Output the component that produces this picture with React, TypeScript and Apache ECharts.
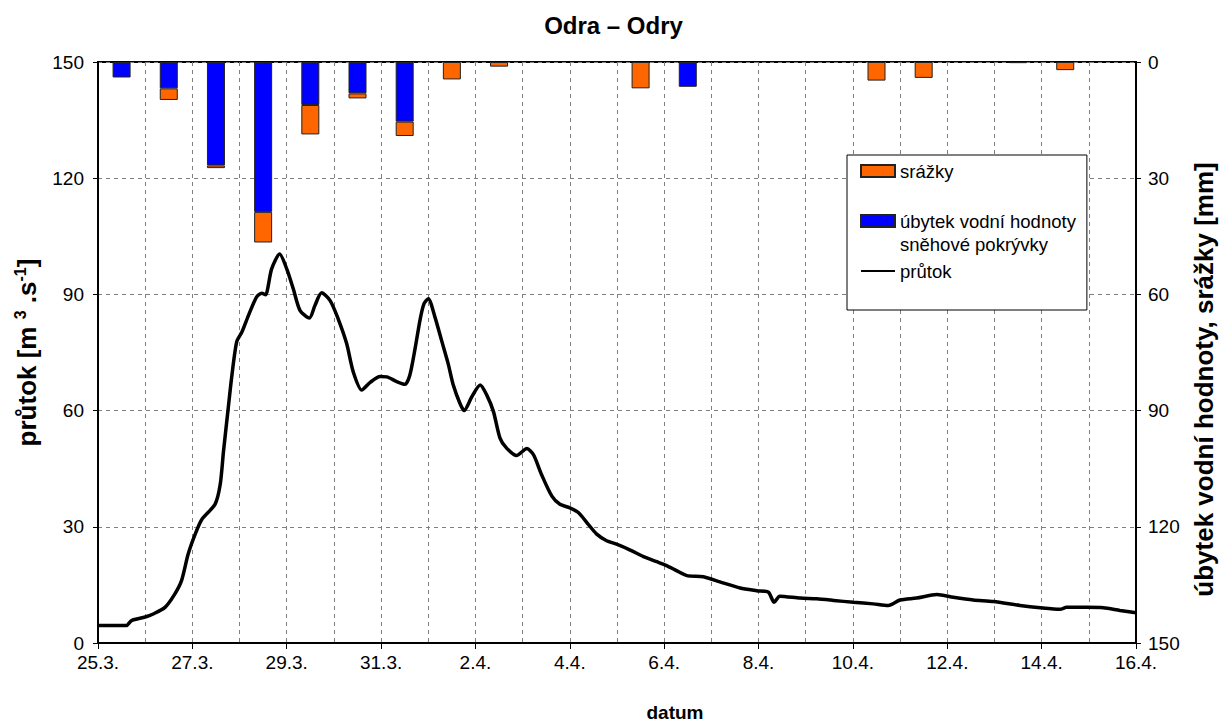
import React, { useEffect, useRef } from 'react';
import * as echarts from 'echarts';

const FONT = '"Liberation Sans", Arial, Helvetica, sans-serif';

// x axis tick labels (every 2 days, day offset 0..22)
const tickLabels = ['25.3.', '27.3.', '29.3.', '31.3.', '2.4.', '4.4.', '6.4.', '8.4.', '10.4.', '12.4.', '14.4.', '16.4.'];

// daily categories for the bars
const days = ['25.3.', '26.3.', '27.3.', '28.3.', '29.3.', '30.3.', '31.3.', '1.4.', '2.4.', '3.4.', '4.4.', '5.4.', '6.4.', '7.4.', '8.4.', '9.4.', '10.4.', '11.4.', '12.4.', '13.4.', '14.4.', '15.4.'];

// daily values, mm
const precip = [0, 3, 0.7, 7.9, 7.6, 1.3, 3.7, 4.5, 1.2, 0, 0, 6.8, 0, 0, 0, 0, 4.8, 4.1, 0, 0.3, 2.1, 0];
const snowLoss = [4, 6.8, 26.7, 38.7, 11.1, 8.1, 15.4, 0, 0, 0, 0, 0, 6.4, 0, 0, 0, 0, 0, 0, 0, 0, 0];

// discharge: time in days from 25.3. 0:00, value m3/s
const flowT = [0, 0.6, 0.71, 1.0, 1.17, 1.42, 1.63, 1.77, 1.91, 2.06, 2.2, 2.48, 2.59, 2.66, 2.76, 2.83, 2.94, 3.05, 3.19, 3.36, 3.47, 3.55, 3.68, 3.85, 4.0, 4.14, 4.28, 4.48, 4.6, 4.74, 4.92, 5.09, 5.27, 5.41, 5.59, 5.77, 5.98, 6.12, 6.33, 6.51, 6.61, 6.72, 6.83, 6.91, 7.0, 7.14, 7.28, 7.42, 7.53, 7.67, 7.76, 7.92, 8.1, 8.24, 8.38, 8.52, 8.66, 8.87, 9.09, 9.23, 9.4, 9.62, 9.79, 10.0, 10.18, 10.36, 10.57, 10.78, 10.99, 11.28, 11.56, 11.84, 12.05, 12.26, 12.48, 12.83, 13.18, 13.61, 13.96, 14.21, 14.33, 14.45, 14.88, 15.23, 15.59, 16.01, 16.43, 16.75, 17.0, 17.35, 17.78, 18.13, 18.55, 18.98, 19.54, 19.97, 20.39, 20.53, 20.96, 21.31, 21.66, 22.0];
const flowQ = [4.5, 4.5, 5.8, 6.7, 7.5, 9.2, 12.7, 16.1, 22.9, 28.1, 31.9, 35.8, 40.9, 49.5, 60.6, 68.3, 77.8, 80.3, 84.6, 89.3, 90.3, 89.9, 96.6, 100.4, 96.6, 91.4, 85.9, 83.9, 87.2, 90.4, 88.4, 83.7, 77.3, 70.0, 65.3, 67.3, 68.8, 68.7, 67.5, 66.8, 69.2, 76.0, 83.7, 87.6, 88.9, 84.2, 78.2, 72.2, 66.6, 61.9, 60.0, 63.5, 66.6, 64.0, 59.8, 52.9, 50.3, 48.4, 50.2, 48.6, 43.5, 37.9, 35.8, 34.9, 33.7, 31.1, 28.1, 26.4, 25.5, 24.0, 22.3, 21.0, 20.0, 18.7, 17.4, 17.1, 15.8, 14.2, 13.5, 13.1, 10.5, 12.1, 11.6, 11.4, 11.0, 10.5, 10.1, 9.7, 11.1, 11.6, 12.5, 11.8, 11.1, 10.7, 9.7, 9.1, 8.7, 9.2, 9.2, 9.1, 8.4, 7.8];

const SNOW = 'úbytek vodní hodnoty sněhové pokrývky';
const RAIN = 'srážky';
const FLOW = 'průtok';

export default function App() {
  const ref = useRef<HTMLDivElement>(null);

  useEffect(() => {
    const chart = echarts.init(ref.current as HTMLDivElement, null, { renderer: 'svg' });
    const nz = (v: number) => (v > 0 ? v : '-');
    const gridLine = { color: '#808080', width: 1, type: [4, 4] };
    const option = {
      animation: false,
      backgroundColor: '#ffffff',
      title: {
        text: 'Odra – Odry',
        left: 'center',
        top: 8,
        padding: [5, 5, 5, 18],
        textStyle: { fontFamily: FONT, fontSize: 24, fontWeight: 'bold', color: '#000' },
      },
      legend: {
        orient: 'vertical',
        left: 847,
        top: 155,
        itemWidth: 34,
        itemHeight: 12,
        itemGap: 4,
        padding: [4.5, 11, 27.5, 13],
        borderColor: '#000',
        borderWidth: 1,
        backgroundColor: '#fff',
        textStyle: { fontFamily: FONT, fontSize: 18.5, lineHeight: 23, color: '#000' },
        data: [
          { name: RAIN, icon: 'rect' },
          { name: SNOW, icon: 'rect' },
          { name: FLOW, itemStyle: { color: 'transparent', borderColor: 'transparent', borderWidth: 0 } },
        ],
        formatter: (name: string) =>
          name === SNOW ? '\núbytek vodní hodnoty\nsněhové pokrývky' : name,
      },
      grid: {
        left: 98,
        right: 91,
        top: 62,
        bottom: 81,
        show: true,
        borderColor: '#000',
        borderWidth: 2,
        backgroundColor: 'transparent',
      },
      xAxis: [
        {
          type: 'value',
          min: 0,
          max: 22,
          interval: 2,
          axisLine: { show: true, onZero: false, lineStyle: { color: '#000', width: 2 } },
          axisTick: { show: true, length: 6, lineStyle: { color: '#000', width: 1 } },
          axisLabel: {
            showMinLabel: true,
            showMaxLabel: true,
            formatter: (v: number) => tickLabels[Math.round(v / 2)] ?? '',
            fontFamily: FONT,
            fontSize: 19,
            color: '#000',
            margin: 10,
          },
          splitLine: { show: true, lineStyle: gridLine },
          minorTick: { show: false, splitNumber: 2 },
          minorSplitLine: { show: true, lineStyle: gridLine },
          name: 'datum',
          nameLocation: 'middle',
          nameGap: 60,
          nameTextStyle: {
            fontFamily: FONT,
            fontSize: 19,
            fontWeight: 'bold',
            color: '#000',
            padding: [0, 0, 0, 116],
          },
        },
        {
          type: 'category',
          data: days,
          boundaryGap: true,
          show: false,
          position: 'bottom',
        },
      ],
      yAxis: [
        {
          type: 'value',
          position: 'left',
          min: 0,
          max: 150,
          interval: 30,
          axisLine: { show: true, lineStyle: { color: '#000', width: 2 } },
          axisTick: { show: true, length: 5, lineStyle: { color: '#000', width: 1 } },
          axisLabel: { fontFamily: FONT, fontSize: 19, color: '#000', margin: 14 },
          splitLine: { show: true, lineStyle: gridLine },
          name: 'průtok [m {sup|3} .s{sup|-1}]',
          nameLocation: 'middle',
          nameGap: 55,
          nameTextStyle: {
            fontFamily: FONT,
            fontSize: 26,
            fontWeight: 'bold',
            color: '#000',
            lineHeight: 29,
            rich: {
              sup: {
                fontFamily: FONT,
                fontSize: 16,
                fontWeight: 'bold',
                color: '#000',
                lineHeight: 16,
                verticalAlign: 'top',
              },
            },
          },
        },
        {
          type: 'value',
          position: 'right',
          min: 0,
          max: 150,
          interval: 30,
          inverse: true,
          axisLine: { show: true, lineStyle: { color: '#000', width: 2 } },
          axisTick: { show: true, length: 5, lineStyle: { color: '#000', width: 1 } },
          axisLabel: { fontFamily: FONT, fontSize: 19, color: '#000', margin: 12 },
          splitLine: { show: false },
          name: 'úbytek vodní hodnoty, srážky [mm]',
          nameLocation: 'middle',
          nameGap: 52,
          nameTextStyle: {
            fontFamily: FONT,
            fontSize: 26,
            fontWeight: 'bold',
            color: '#000',
            padding: [0, 54, 0, 0],
          },
        },
      ],
      series: [
        {
          name: SNOW,
          type: 'bar',
          xAxisIndex: 1,
          yAxisIndex: 1,
          stack: 'mm',
          barWidth: 18,
          data: snowLoss.map(nz),
          itemStyle: { color: '#0000FF', borderColor: '#222', borderWidth: 1 },
        },
        {
          name: RAIN,
          type: 'bar',
          xAxisIndex: 1,
          yAxisIndex: 1,
          stack: 'mm',
          barWidth: 18,
          data: precip.map(nz),
          itemStyle: { color: '#FF6600', borderColor: '#222', borderWidth: 1 },
        },
        {
          name: FLOW,
          type: 'line',
          xAxisIndex: 0,
          yAxisIndex: 0,
          data: flowT.map((t, i) => [t, flowQ[i]]),
          symbol: 'none',
          smooth: 0.25,
          lineStyle: { color: '#000', width: 3.5 },
          itemStyle: { color: '#000' },
          z: 3,
        },
      ],
    };
    chart.setOption(option as any);
    return () => chart.dispose();
  }, []);

  return (
    <div
      ref={ref}
      style={{ position: 'fixed', left: 0, top: 0, width: 1227, height: 727, background: '#fff' }}
    />
  );
}
